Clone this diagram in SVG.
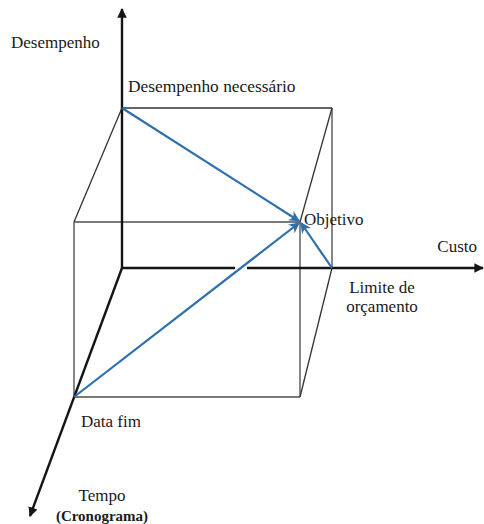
<svg xmlns="http://www.w3.org/2000/svg" width="484" height="524" viewBox="0 0 484 524">
<style>
.t{font-family:'Liberation Serif','DejaVu Serif',serif;font-size:17px;fill:#1a1a1a}
.axis{stroke:#141414;stroke-width:2.4;fill:none}
.box{stroke:#7a7a7a;stroke-width:1.8;fill:none}
.back{stroke:#333;stroke-width:1.3;fill:none}
.blue{stroke:#2f6fae;stroke-width:2.2;fill:none;marker-end:url(#bh)}
</style>
<defs>
<marker id="ah" viewBox="0 0 10 10" refX="9" refY="5" markerWidth="4" markerHeight="4" orient="auto" markerUnits="strokeWidth">
<path d="M0,0 L10,5 L0,10 z" fill="#141414"/>
</marker>
<marker id="bh" viewBox="0 0 10 10" refX="9" refY="5" markerWidth="5" markerHeight="5" orient="auto" markerUnits="strokeWidth">
<path d="M0,0 L10,5 L0,10 L3,5 z" fill="#2f6fae"/>
</marker>
</defs>
<rect width="484" height="524" fill="#fff"/>
<g id="box">
<line class="box" x1="74" y1="222" x2="300" y2="222"/>
<line class="box" x1="74" y1="397" x2="300" y2="397"/>
<line class="box" x1="74" y1="222" x2="74" y2="397"/>
<line class="box" x1="300" y1="222" x2="300" y2="397"/>
<line class="box" x1="332" y1="108" x2="332" y2="268"/>
<line class="back" x1="122" y1="108" x2="332" y2="108"/>
<line class="back" x1="122" y1="108" x2="74" y2="222"/>
<line class="back" x1="332" y1="108" x2="300" y2="222"/>
<line class="back" x1="332" y1="268" x2="300" y2="397"/>
</g>
<g id="axes">
<line class="axis" x1="122" y1="268" x2="122" y2="9" marker-end="url(#ah)"/>
<line class="axis" x1="122" y1="268" x2="483" y2="268" marker-end="url(#ah)"/>
<line class="axis" x1="122" y1="268" x2="30" y2="516" marker-end="url(#ah)"/>
<line x1="235" y1="268" x2="247" y2="268" stroke="#fff" stroke-width="4"/>
</g>
<g id="connectors">
<line class="blue" x1="122" y1="108" x2="299" y2="221"/>
<line class="blue" x1="74" y1="397" x2="299" y2="223"/>
<line class="blue" x1="332" y1="268" x2="301" y2="223"/>
</g>
<g id="labels" font-family="'Liberation Serif','DejaVu Serif',serif">
<text class="t" x="11" y="48">Desempenho</text>
<text class="t" x="128" y="92" style="font-size:17.4px">Desempenho necessário</text>
<text class="t" x="304" y="225">Objetivo</text>
<text class="t" x="477" y="252" text-anchor="end">Custo</text>
<text class="t" x="382" y="293" text-anchor="middle">Limite de</text>
<text class="t" x="382" y="312" text-anchor="middle">orçamento</text>
<text class="t" x="81" y="427">Data fim</text>
<text class="t" x="102" y="501" text-anchor="middle">Tempo</text>
<text class="t" x="102" y="521" text-anchor="middle" font-weight="bold" style="font-size:15px">(Cronograma)</text>
</g>
</svg>
